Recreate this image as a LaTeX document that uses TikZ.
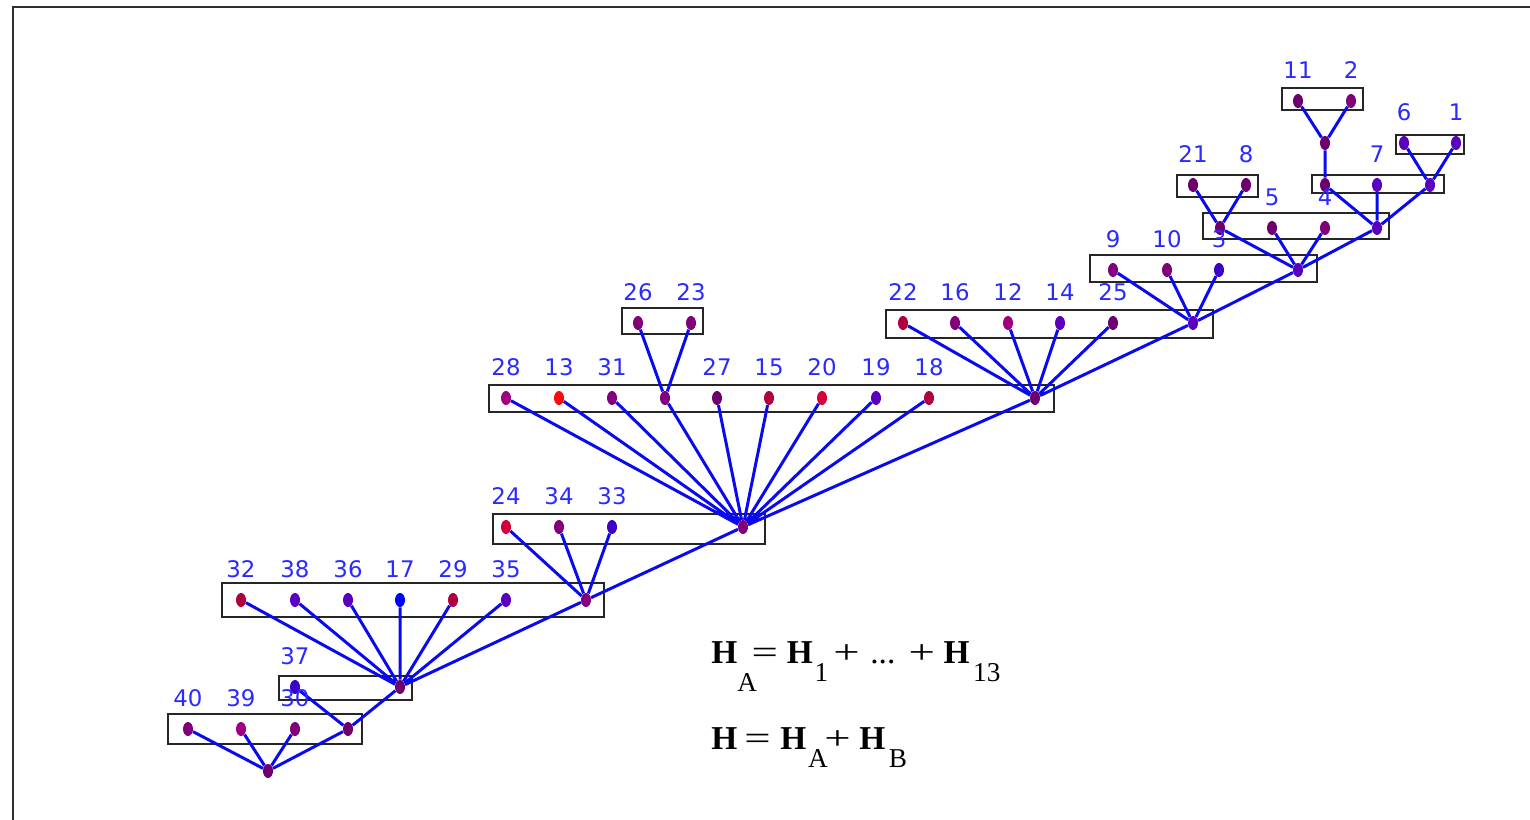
\documentclass[tikz,border=0pt]{standalone}
\usepackage{fontspec}
\usepackage{graphicx}
\usepackage{tikz}
\usetikzlibrary{shapes.geometric, backgrounds}
\newfontfamily\labelfont{DejaVu Sans}
\newfontfamily\formfont{Liberation Serif}
\definecolor{LabelBlue}{HTML}{2A2AFF}
\definecolor{LinkBlue}{HTML}{0A0AEE}
\definecolor{FrameGray}{HTML}{303030}
\definecolor{DotPlum}{HTML}{6E006E}
\definecolor{DotPurple}{HTML}{82007A}
\definecolor{DotMagenta}{HTML}{A00080}
\definecolor{DotViolet}{HTML}{5C00C0}
\definecolor{DotIndigo}{HTML}{3C00C8}
\definecolor{DotCrimson}{HTML}{B00040}
\definecolor{DotRose}{HTML}{D4003C}
\definecolor{DotRed}{HTML}{FF0A0A}
\definecolor{DotBlue}{HTML}{0000FF}
% lowered index and wide signs, as the picture sets them
\newcommand{\hsub}[2][10.5pt]{\raisebox{-#1}{\fontsize{15.5}{15.5}\selectfont #2}}
\newcommand{\wsign}[1]{\scalebox{1.4}[1]{#1}}

\begin{document}
\begin{tikzpicture}[
  x=0.02cm, y=-0.02cm,
  dot/.style={ellipse, minimum width=0.2cm, minimum height=0.28cm, inner sep=0pt,
              label distance=0pt},
  lbl/.style={font=\labelfont\fontsize{13}{13}\selectfont, text=LabelBlue,
              inner sep=0pt, yshift=8.5pt},
  grp/.style={draw=black!85, line width=1.1pt},
  link/.style={draw=LinkBlue, line width=1.7pt},
  formula/.style={font=\formfont\fontsize{19}{19}\selectfont, inner sep=0pt},
]

\useasboundingbox (0,0) rectangle (1530,820);
\begin{scope}
  \clip (0,0) rectangle (1530,820);
  \draw[FrameGray, line width=1.4pt] (13,840) -- (13,7) -- (1550,7);
\end{scope}

% top groups
\node[dot, fill=DotPlum, label={[lbl]above:11}] (n11) at (1298,101) {};
\node[dot, fill=DotPurple, label={[lbl]above:2}] (n2) at (1351,101) {};
\node[dot, fill=DotPlum] (jTop) at (1325,143) {};
\node[dot, fill=DotViolet, label={[lbl]above:6}] (n6) at (1404,143) {};
\node[dot, fill=DotViolet, label={[lbl]above:1}] (n1) at (1456,143) {};
\node[dot, fill=DotPlum] (jB1) at (1325,185) {};
\node[dot, fill=DotViolet, label={[lbl]above:7}] (n7) at (1377,185) {};
\node[dot, fill=DotViolet] (jB2) at (1430,185) {};
\node[dot, fill=DotPlum, label={[lbl]above:21}] (n21) at (1193,185) {};
\node[dot, fill=DotPlum, label={[lbl]above:8}] (n8) at (1246,185) {};
\node[dot, fill=DotPlum] (jC1) at (1220,228) {};
\node[dot, fill=DotPlum, label={[lbl]above:5}] (n5) at (1272,228) {};
\node[dot, fill=DotPurple, label={[lbl]above:4}] (n4) at (1325,228) {};
\node[dot, fill=DotViolet] (jC2) at (1377,228) {};
\node[dot, fill=DotPurple, label={[lbl]above:9}] (n9) at (1113,270) {};
\node[dot, fill=DotPurple, label={[lbl]above:10}] (n10) at (1167,270) {};
\node[dot, fill=DotIndigo, label={[lbl]above:3}] (n3) at (1219,270) {};
\node[dot, fill=DotViolet] (jD) at (1298,270) {};

% middle groups
\node[dot, fill=DotCrimson, label={[lbl]above:22}] (n22) at (903,323) {};
\node[dot, fill=DotPurple, label={[lbl]above:16}] (n16) at (955,323) {};
\node[dot, fill=DotMagenta, label={[lbl]above:12}] (n12) at (1008,323) {};
\node[dot, fill=DotViolet, label={[lbl]above:14}] (n14) at (1060,323) {};
\node[dot, fill=DotPlum, label={[lbl]above:25}] (n25) at (1113,323) {};
\node[dot, fill=DotViolet] (jE) at (1193,323) {};
\node[dot, fill=DotPurple, label={[lbl]above:26}] (n26) at (638,323) {};
\node[dot, fill=DotPurple, label={[lbl]above:23}] (n23) at (691,323) {};
\node[dot, fill=DotMagenta, label={[lbl]above:28}] (n28) at (506,398) {};
\node[dot, fill=DotRed, label={[lbl]above:13}] (n13) at (559,398) {};
\node[dot, fill=DotPurple, label={[lbl]above:31}] (n31) at (612,398) {};
\node[dot, fill=DotPurple] (jF1) at (665,398) {};
\node[dot, fill=DotPlum, label={[lbl]above:27}] (n27) at (717,398) {};
\node[dot, fill=DotCrimson, label={[lbl]above:15}] (n15) at (769,398) {};
\node[dot, fill=DotRose, label={[lbl]above:20}] (n20) at (822,398) {};
\node[dot, fill=DotViolet, label={[lbl]above:19}] (n19) at (876,398) {};
\node[dot, fill=DotCrimson, label={[lbl]above:18}] (n18) at (929,398) {};
\node[dot, fill=DotPlum] (jF2) at (1035,398) {};

% lower groups
\node[dot, fill=DotRose, label={[lbl]above:24}] (n24) at (506,527) {};
\node[dot, fill=DotPurple, label={[lbl]above:34}] (n34) at (559,527) {};
\node[dot, fill=DotIndigo, label={[lbl]above:33}] (n33) at (612,527) {};
\node[dot, fill=DotPurple] (jG) at (743,527) {};
\node[dot, fill=DotCrimson, label={[lbl]above:32}] (n32) at (241,600) {};
\node[dot, fill=DotViolet, label={[lbl]above:38}] (n38) at (295,600) {};
\node[dot, fill=DotViolet, label={[lbl]above:36}] (n36) at (348,600) {};
\node[dot, fill=DotBlue, label={[lbl]above:17}] (n17) at (400,600) {};
\node[dot, fill=DotCrimson, label={[lbl]above:29}] (n29) at (453,600) {};
\node[dot, fill=DotViolet, label={[lbl]above:35}] (n35) at (506,600) {};
\node[dot, fill=DotPurple] (jH) at (586,600) {};
\node[dot, fill=DotIndigo, label={[lbl]above:37}] (n37) at (295,687) {};
\node[dot, fill=DotPlum] (jI) at (400,687) {};
\node[dot, fill=DotPurple, label={[lbl]above:40}] (n40) at (188,729) {};
\node[dot, fill=DotMagenta, label={[lbl]above:39}] (n39) at (241,729) {};
\node[dot, fill=DotPurple, label={[lbl]above:30}] (n30) at (295,729) {};
\node[dot, fill=DotPlum] (jK) at (348,729) {};
\node[dot, fill=DotPlum] (root) at (268,771) {};

% sums
\node[formula, anchor=base west] (sumA) at (711,663)
  {\textbf{H}\hsub[16.5pt]{A}\hspace{-3pt}\wsign{=}\hspace{5pt}\textbf{H}\hspace{1pt}\hsub{1}\hspace{3pt}\wsign{+}\hspace{6pt}...\hspace{7.5pt}\wsign{+}\hspace{5pt}\textbf{H}\hspace{2pt}\hsub{13}};
\node[formula, anchor=base west] (sumH) at (711,749)
  {\textbf{H}\hspace{4pt}\wsign{=}\hspace{5.5pt}\textbf{H}\hspace{1pt}\hsub{A}\hspace{-2pt}\wsign{+}\hspace{5pt}\textbf{H}\hspace{2pt}\hsub{B}};

\begin{scope}[on background layer]
  % groups
  \draw[grp] (1282,88) rectangle (1363,110);
  \draw[grp] (1396,135) rectangle (1464,154);
  \draw[grp] (1312,175) rectangle (1444,193);
  \draw[grp] (1177,175) rectangle (1258,197);
  \draw[grp] (1203,213) rectangle (1389,239);
  \draw[grp] (1090,255) rectangle (1317,282);
  \draw[grp] (886,310) rectangle (1213,338);
  \draw[grp] (622,308) rectangle (703,334);
  \draw[grp] (489,385) rectangle (1054,412);
  \draw[grp] (493,514) rectangle (765,544);
  \draw[grp] (222,583) rectangle (604,617);
  \draw[grp] (279,676) rectangle (412,700);
  \draw[grp] (168,714) rectangle (362,744);
  % links
  \draw[link] (n11) -- (jTop) (n2) -- (jTop) (jTop) -- (jB1);
  \draw[link] (n6) -- (jB2) (n1) -- (jB2);
  \draw[link] (jB1) -- (jC2) (n7) -- (jC2) (jB2) -- (jC2);
  \draw[link] (n21) -- (jC1) (n8) -- (jC1);
  \draw[link] (jC1) -- (jD) (n5) -- (jD) (n4) -- (jD) (jC2) -- (jD);
  \draw[link] (n9) -- (jE) (n10) -- (jE) (n3) -- (jE) (jD) -- (jE);
  \draw[link] (n22) -- (jF2) (n16) -- (jF2) (n12) -- (jF2) (n14) -- (jF2)
              (n25) -- (jF2) (jE) -- (jF2);
  \draw[link] (n26) -- (jF1) (n23) -- (jF1);
  \draw[link] (n28) -- (jG) (n13) -- (jG) (n31) -- (jG) (jF1) -- (jG)
              (n27) -- (jG) (n15) -- (jG) (n20) -- (jG) (n19) -- (jG)
              (n18) -- (jG) (jF2) -- (jG);
  \draw[link] (n24) -- (jH) (n34) -- (jH) (n33) -- (jH) (jG) -- (jH);
  \draw[link] (n32) -- (jI) (n38) -- (jI) (n36) -- (jI) (n17) -- (jI)
              (n29) -- (jI) (n35) -- (jI) (jH) -- (jI);
  \draw[link] (n37) -- (jK) (jI) -- (jK);
  \draw[link] (n40) -- (root) (n39) -- (root) (n30) -- (root) (jK) -- (root);
\end{scope}

\end{tikzpicture}
\end{document}
